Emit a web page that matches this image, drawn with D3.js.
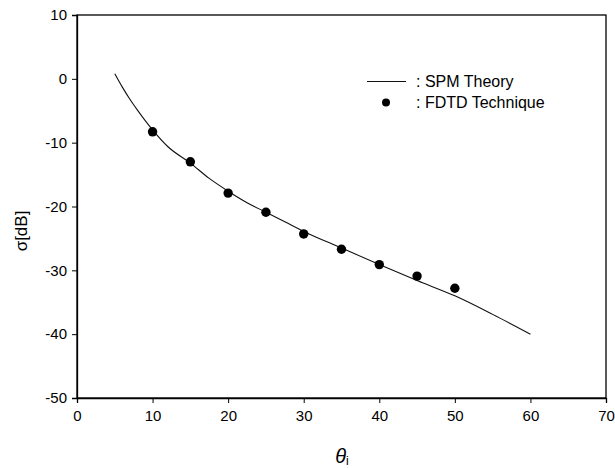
<!DOCTYPE html>
<html>
<head>
<meta charset="utf-8">
<script src="https://cdn.jsdelivr.net/npm/d3@7"></script>
<style>
  body { margin: 0; background: #fff; }
  text { font-family: Arial, "Liberation Sans", sans-serif; fill: #000; }
</style>
</head>
<body>
<script>
const w = 615;
const h = 468;
const margin = { top: 15, right: 9, bottom: 70, left: 77 };

// SPM theory curve
const theoryAngle = [5, 6, 7, 8, 9, 10, 12, 15, 17.5, 20, 22.5, 25, 27.5, 30, 35, 40, 45, 50, 55, 60];
const theorySigma = [0.8, -1.3, -3.2, -4.9, -6.5, -8.0, -10.6, -13.2, -15.6, -17.6, -19.4, -20.9, -22.4, -23.9, -26.5, -29.1, -31.6, -34.0, -36.9, -40.0];

// FDTD points
const fdtdAngle = [10, 15, 20, 25, 30, 35, 40, 45, 50];
const fdtdSigma = [-8.3, -13.0, -17.9, -20.9, -24.3, -26.7, -29.1, -30.9, -32.8];

const xTicks = [0, 10, 20, 30, 40, 50, 60, 70];
const yTicks = [10, 0, -10, -20, -30, -40, -50];

const svg = d3.select("body").append("svg")
  .attr("width", w)
  .attr("height", h);

const x = d3.scaleLinear().domain([0, 70]).range([margin.left, w - margin.right]);
const y = d3.scaleLinear().domain([-50, 10]).range([h - margin.bottom, margin.top]);

// frame
svg.append("rect")
  .attr("x", x(0)).attr("y", y(10))
  .attr("width", x(70) - x(0)).attr("height", y(-50) - y(10))
  .attr("fill", "none").attr("stroke", "#000").attr("stroke-width", 1.3);

const xAxis = svg.append("g")
  .attr("transform", "translate(0," + y(-50) + ")")
  .call(d3.axisBottom(x).tickValues(xTicks).tickFormat(d => String(d)).tickSize(5).tickPadding(7));

const yAxis = svg.append("g")
  .attr("transform", "translate(" + x(0) + ",0)")
  .call(d3.axisLeft(y).tickValues(yTicks).tickFormat(d => String(d)).tickSize(5).tickPadding(5));

[xAxis, yAxis].forEach(g => {
  g.select(".domain").attr("stroke", "#000").attr("stroke-width", 1.3);
  g.selectAll(".tick line").attr("stroke", "#000");
  g.selectAll("text").style("font-size", "15px").style("font-family", "Arial, 'Liberation Sans', sans-serif");
});

// theory line
const lineData = theoryAngle.map((a, i) => [a, theorySigma[i]]);
svg.append("path")
  .datum(lineData)
  .attr("fill", "none")
  .attr("stroke", "#111")
  .attr("stroke-width", 1.1)
  .attr("d", d3.line().x(d => x(d[0])).y(d => y(d[1])).curve(d3.curveMonotoneX));

// fdtd dots
svg.selectAll("circle.fdtd")
  .data(fdtdAngle.map((a, i) => [a, fdtdSigma[i]]))
  .enter()
  .append("circle")
  .attr("class", "fdtd")
  .attr("cx", d => x(d[0]))
  .attr("cy", d => y(d[1]))
  .attr("r", 4.7)
  .attr("fill", "#000");

// legend
const legend = svg.append("g");
legend.append("line")
  .attr("x1", 367).attr("x2", 406).attr("y1", 81.5).attr("y2", 81.5)
  .attr("stroke", "#111").attr("stroke-width", 1.1);
legend.append("text")
  .attr("x", 416).attr("y", 87)
  .style("font-size", "16px")
  .text(": SPM Theory");
legend.append("circle")
  .attr("cx", 386).attr("cy", 102.5).attr("r", 4)
  .attr("fill", "#000");
legend.append("text")
  .attr("x", 416).attr("y", 108)
  .style("font-size", "16px")
  .text(": FDTD Technique");

// axis titles
svg.append("text")
  .attr("transform", "translate(27," + 231 + ") rotate(-90)")
  .attr("text-anchor", "middle")
  .style("font-size", "17px")
  .text("σ[dB]");

const xt = svg.append("text")
  .attr("x", 342).attr("y", 463)
  .attr("text-anchor", "middle");
xt.append("tspan").style("font-size", "20px").style("font-style", "italic").text("θ");
xt.append("tspan").style("font-size", "12px").attr("dy", 2).text("i");
</script>
</body>
</html>
